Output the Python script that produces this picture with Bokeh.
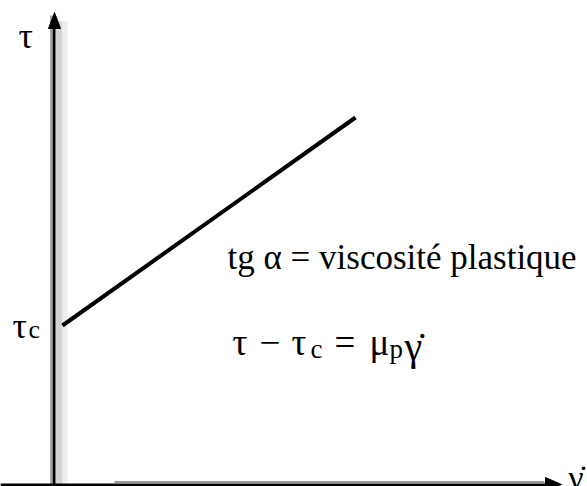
from bokeh.plotting import figure
from bokeh.models import Range1d
from bokeh.core.properties import value
from bokeh.embed import file_html
from bokeh.resources import INLINE

# Bingham plastic: shear stress vs shear rate (arbitrary units)
shear_rate = [8, 301]
shear_stress = [158, 366]
yield_stress = 158

SERIF = value("Liberation Serif")

p = figure(width=587, height=486, x_range=Range1d(-54, 533), y_range=Range1d(-3, 483),
           output_backend="svg", toolbar_location=None, min_border=0,
           x_axis_type=None, y_axis_type=None)
p.grid.visible = False
p.outline_line_color = None
p.background_fill_color = "white"
p.border_fill_color = "white"

# soft shadow beside the stress axis
p.segment(x0=[-3.5], y0=[-3], x1=[-3.5], y1=[468], line_color="#a8a8a8", line_width=2)
p.segment(x0=[4.5], y0=[-3], x1=[4.5], y1=[462], line_color="#d4d4d4", line_width=7)
p.segment(x0=[10.5], y0=[-3], x1=[10.5], y1=[462], line_color="#eeeeee", line_width=5)
# soft shadow above the shear-rate axis
p.segment(x0=[60], y0=[1.5], x1=[490], y1=[1.5], line_color="#9a9a9a", line_width=2)

# axes
p.segment(x0=[-0.5], y0=[-3], x1=[-0.5], y1=[458], line_color="black", line_width=3)
p.patch(x=[0, -6, 6], y=[471, 455, 455], fill_color="black", line_color="black")
p.segment(x0=[-54], y0=[-2], x1=[492], y1=[-2], line_color="black", line_width=4)
p.patch(x=[507, 491, 491], y=[-1, 6, -8], fill_color="black", line_color="black")

# flow curve
p.line(shear_rate, shear_stress, line_color="black", line_width=4)

# axis labels
p.text(x=[-36], y=[448], text=["τ"], text_font=SERIF, text_font_size="36px",
       text_color="black", text_baseline="alphabetic")
p.text(x=[-42], y=[yield_stress], text=["τ"], text_font=SERIF, text_font_size="36px",
       text_color="black", text_baseline="alphabetic")
p.text(x=[-26], y=[yield_stress - 4], text=["c"], text_font=SERIF, text_font_size="26px",
       text_color="black", text_baseline="alphabetic")
p.text(x=[514], y=[6], text=["γ̇"], text_font=SERIF, text_font_size="34px",
       text_color="black", text_baseline="alphabetic")

# annotations
p.text(x=[173], y=[226], text=["tg α = viscosité plastique"], text_font=SERIF,
       text_font_size="35px", text_color="black", text_baseline="alphabetic")

big = ["τ", "−", "τ", "=", "μ"]
big_x = [178, 205, 237, 280, 315]
p.text(x=big_x, y=[141] * len(big), text=big, text_font=SERIF, text_font_size="37px",
       text_color="black", text_baseline="alphabetic")
p.text(x=[350], y=[137], text=["γ̇"], text_font=SERIF, text_font_size="40px",
       text_color="black", text_baseline="alphabetic")
small = ["c", "p"]
small_x = [256, 335]
p.text(x=small_x, y=[135] * len(small), text=small, text_font=SERIF, text_font_size="27px",
       text_color="black", text_baseline="alphabetic")

open("out.html", "w").write(file_html(p, INLINE))
